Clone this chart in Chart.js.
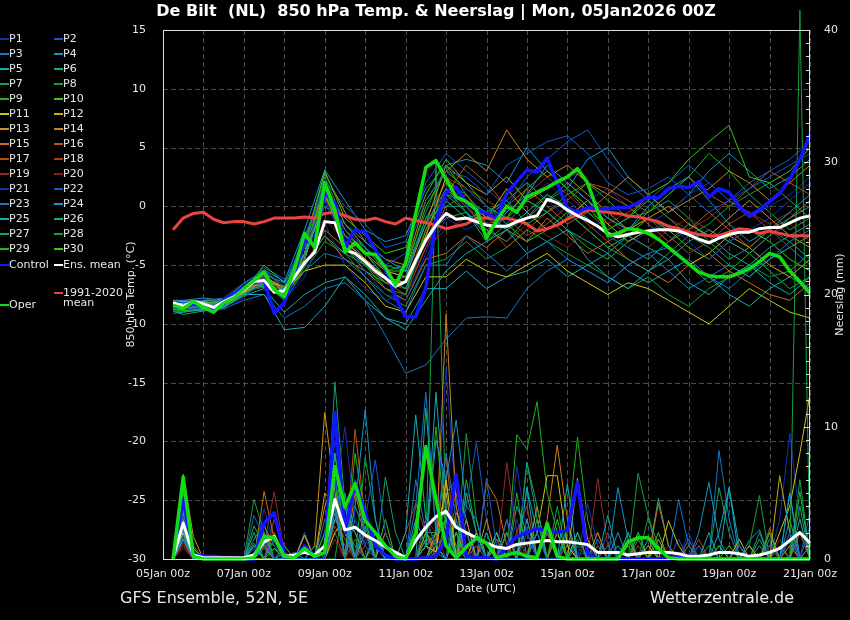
<!DOCTYPE html>
<html>
<head>
<meta charset="utf-8">
<script src="https://cdn.jsdelivr.net/npm/chart.js@4.4.1/dist/chart.umd.min.js"></script>
<style>
  html, body { margin: 0; padding: 0; background: #000; }
  #chart { display: block; width: 850px; height: 620px; }
</style>
</head>
<body>
<canvas id="chart" width="850" height="620"></canvas>
<script>
"use strict";

// forecast steps in hours after 05Jan2026 00Z
var stepHours = [];
for (var k = 1; k <= 64; k++) stepHours.push(k * 6);
// members were read every 12 h (plus the first 06Z step)
var memberHours = [6];
for (var h = 12; h <= 384; h += 12) memberHours.push(h);

var dayTicks = ["05Jan 00z", "07Jan 00z", "09Jan 00z", "11Jan 00z", "13Jan 00z",
  "15Jan 00z", "17Jan 00z", "19Jan 00z", "21Jan 00z"];

// 850 hPa temperature (degC), 6-hourly
var controlTemp = [-8.4,-8.6,-8.3,-8.4,-8.7,-8.0,-7.5,-6.9,-6.5,-6.3,
  -9.1,-8.2,-5.7,-2.9,-3.1,1.2,0.3,-3.5,-2.0,-2.2,
  -3.7,-5.4,-7.7,-9.4,-9.4,-6.9,-1.2,1.2,1.6,0.3,
  -0.3,-0.6,-1.0,1.1,2.1,3.1,2.9,4.1,2.0,-0.2,
  -0.5,-0.1,-0.2,-0.2,-0.1,-0.1,0.3,0.8,0.7,1.5,
  1.7,1.6,2.1,0.8,1.5,1.2,0.0,-0.8,-0.3,0.4,
  1.1,2.3,4.0,6.1];
var meanTemp = [-8.2,-8.5,-8.1,-8.3,-8.6,-8.1,-7.7,-7.1,-6.4,-6.3,
  -7.3,-7.2,-6.0,-4.8,-3.9,-1.3,-1.4,-3.7,-4.0,-4.7,
  -5.5,-6.1,-6.8,-6.4,-4.6,-2.9,-1.6,-0.6,-1.1,-1.0,
  -1.3,-1.6,-1.7,-1.7,-1.3,-1.0,-0.8,0.6,0.3,-0.3,
  -0.8,-1.2,-1.7,-2.3,-2.6,-2.4,-2.2,-2.1,-2.0,-2.0,
  -2.1,-2.4,-2.8,-3.1,-2.7,-2.4,-2.2,-2.2,-1.9,-1.8,
  -1.8,-1.4,-1.0,-0.8];
var operTemp = [-8.4,-8.7,-8.1,-8.6,-9.0,-8.2,-7.8,-7.0,-6.3,-5.6,
  -7.1,-7.7,-5.4,-2.3,-3.5,2.0,-0.3,-3.9,-3.1,-4.0,
  -4.1,-5.2,-6.7,-4.8,-0.6,3.3,3.9,2.3,0.8,0.4,
  -0.3,-2.7,-1.2,0.0,-0.5,0.8,1.2,1.6,2.1,2.5,
  3.2,2.0,-0.4,-2.5,-2.3,-1.9,-2.0,-2.3,-2.8,-3.5,
  -4.2,-4.9,-5.6,-5.9,-6.0,-6.0,-5.7,-5.3,-4.7,-4.0,
  -4.3,-5.5,-6.4,-7.4];
var climTemp = [-2.0,-1.0,-0.6,-0.5,-1.1,-1.4,-1.3,-1.3,-1.5,-1.3,
  -1.0,-1.0,-1.0,-0.9,-1.0,-0.6,-0.5,-0.8,-1.1,-1.2,
  -1.0,-1.3,-1.5,-1.0,-1.2,-1.4,-1.6,-1.9,-1.7,-1.5,
  -1.0,-1.0,-1.1,-1.0,-1.2,-1.5,-2.1,-1.9,-1.6,-1.1,
  -0.7,-0.3,-0.4,-0.5,-0.6,-0.8,-0.9,-1.1,-1.3,-1.7,
  -1.9,-2.2,-2.4,-2.5,-2.5,-2.2,-1.9,-2.0,-2.3,-2.1,
  -2.3,-2.5,-2.5,-2.5];

// precipitation (mm per 6 h)
var controlRain = [0,4.5,0.3,0.2,0.2,0.1,0,0,0,2.7,
  3.5,0.3,0.1,1.0,0.2,0.5,11.1,2.0,5.8,3.5,
  1.0,0.3,0,0,0,0.1,0.2,1.5,6.4,0.2,
  0.1,0.1,0,0.9,1.7,2.0,2.3,2.1,2.0,2.2,
  5.8,0.4,0,0,0,0,0,0,0,0,
  0.2,0.3,0,0,0,0,0,0,0,0,
  0,0,0,0];
var operRain = [0,6.2,0.2,0,0,0,0,0,0.1,1.7,
  1.6,0.2,0.1,0.8,0.2,0.5,7.0,3.9,5.7,2.9,
  2.0,1.0,0.2,0,2.0,8.5,4.5,1.0,0.1,0.9,
  1.6,1.2,0.1,0.3,0.5,0.2,0.1,2.7,0.2,0,
  0,0,0,0,0,1.3,1.6,1.6,0.8,0.1,
  0,0,0,0,0,0,0,0,0,0,
  0,0,0,0];
var meanRain = [0.1,2.7,0.3,0.1,0.1,0.1,0.1,0.1,0.3,1.3,
  1.7,0.2,0.3,0.5,0.3,1.0,4.5,2.2,2.4,1.8,
  1.4,0.9,0.5,0.1,1.4,2.4,3.2,3.6,2.4,2.0,
  1.6,1.2,0.9,0.8,1.1,1.2,1.3,1.4,1.3,1.3,
  1.2,1.1,0.5,0.5,0.5,0.3,0.4,0.5,0.5,0.5,
  0.4,0.2,0.2,0.3,0.5,0.5,0.4,0.2,0.3,0.5,
  0.8,1.4,2.0,1.2];

// ensemble members, temperature at memberHours
var tempP1 = [-8.6,-8.8,-8.6,-8.4,-7.0,-6.0,-7.5,-3.5,0.5,-3.0,-5.5,-7.5,-8.0,-4.0,0.5,1.5,0.0,-1.5,0.5,2.0,0.5,-1.0,-2.5,-3.5,-2.0,-1.5,-3.0,-4.5,-3.0,-2.0,-1.0,0.5,2.0];
var tempP2 = [-8.1,-8.2,-8.0,-7.8,-6.5,-5.5,-6.8,-2.5,1.5,-2.0,-3.5,-5.0,-4.0,0.5,3.0,2.5,1.0,3.5,4.5,5.5,6.0,4.5,2.0,1.0,1.5,2.5,1.0,-0.5,0.5,1.5,2.5,3.5,4.5];
var tempP3 = [-8.4,-8.5,-8.5,-8.2,-7.5,-6.5,-8.0,-5.5,-4.0,-4.5,-6.0,-8.0,-9.0,-5.0,-5.0,-2.5,-4.0,-5.5,-4.0,-3.0,-4.5,-5.5,-6.5,-5.0,-4.0,-3.5,-5.0,-6.0,-7.0,-5.5,-4.5,-3.0,-2.0];
var tempP4 = [-8.0,-8.0,-7.8,-8.0,-6.8,-5.8,-6.5,-4.0,0.0,-1.5,-3.0,-4.5,-5.5,-1.5,1.5,-0.5,-2.5,-0.5,1.0,3.5,2.0,0.5,-1.0,-2.0,0.0,1.5,2.5,0.5,-1.5,-3.0,-2.0,-0.5,1.0];
var tempP5 = [-9.1,-9.0,-8.8,-8.5,-7.5,-7.5,-10.5,-10.3,-8.5,-6.0,-7.5,-9.5,-10.5,-8.0,-5.5,-4.0,-3.0,-2.0,-4.0,-3.0,-2.0,-4.5,-6.0,-7.0,-5.5,-4.5,-6.5,-7.5,-6.0,-5.0,-6.5,-7.5,-6.0];
var tempP6 = [-8.5,-8.6,-8.3,-8.0,-7.0,-6.8,-7.0,-4.5,1.0,-2.5,-4.0,-6.0,-7.0,-3.0,0.5,-1.0,-0.5,0.5,-1.5,-0.5,-2.0,-3.0,-4.0,-2.5,-3.5,-4.5,-3.0,-2.0,-3.0,-4.0,-2.5,-1.0,0.0];
var tempP7 = [-8.3,-8.4,-8.8,-8.6,-7.5,-6.5,-7.5,-5.0,-2.5,-4.0,-5.0,-6.5,-6.0,-1.0,0.0,0.0,-2.0,-3.0,-1.0,1.0,-0.5,-2.0,-3.5,-4.5,-5.5,-4.0,-2.5,-3.5,-5.0,-6.0,-4.5,-3.5,-2.5];
var tempP8 = [-8.5,-8.7,-8.2,-8.3,-6.8,-5.5,-7.0,-3.0,2.5,-1.5,-3.5,-5.5,-5.0,-0.5,3.5,1.0,-1.0,0.5,2.0,0.5,1.5,-0.5,-2.0,-1.0,0.5,-1.0,-2.5,-1.5,0.0,1.0,-0.5,-2.0,-1.0];
var tempP9 = [-8.9,-9.2,-8.9,-8.6,-7.6,-6.2,-7.8,-4.0,1.8,-3.5,-5.0,-7.0,-7.5,-2.0,1.0,-0.5,-2.0,-1.0,0.5,-0.5,1.0,2.0,0.5,-1.0,-0.5,1.0,2.5,4.5,3.0,1.0,2.0,0.5,-1.0];
var tempP10 = [-8.6,-8.9,-8.4,-8.0,-7.2,-5.0,-6.5,-3.5,3.0,-1.0,-2.5,-4.0,-3.5,1.0,4.0,2.0,0.0,-1.0,1.5,3.0,1.5,0.0,-2.0,-1.0,1.0,2.0,4.0,5.5,6.9,2.5,2.0,3.0,5.0];
var tempP11 = [-8.2,-8.3,-8.1,-8.4,-7.3,-6.6,-7.2,-5.5,-5.0,-5.0,-6.5,-8.5,-9.0,-6.0,-6.0,-4.5,-5.5,-6.0,-5.0,-4.0,-5.5,-6.5,-7.5,-6.5,-7.0,-8.0,-9.0,-10.0,-8.5,-7.0,-8.0,-9.0,-9.5];
var tempP12 = [-8.5,-8.6,-8.7,-8.2,-7.0,-6.4,-6.8,-4.5,1.0,-3.0,-4.5,-6.0,-6.5,-2.5,2.5,0.5,-1.0,1.5,-0.5,-2.0,-1.0,0.5,-1.5,-3.0,-2.0,-3.5,-5.0,-4.0,-2.5,-3.5,-5.0,-6.0,-4.5];
var tempP13 = [-8.0,-8.1,-8.0,-7.9,-6.9,-6.0,-6.9,-4.0,2.0,-1.5,-3.5,-5.5,-6.0,-1.5,3.5,2.0,1.0,2.5,0.5,1.5,2.5,1.0,-0.5,-2.0,-1.0,0.0,-1.5,-2.5,-1.0,0.5,-1.0,-2.5,-3.5];
var tempP14 = [-8.3,-8.4,-8.2,-8.5,-7.4,-5.8,-7.3,-3.0,2.8,-0.5,-3.0,-4.5,-5.0,0.5,3.0,4.5,3.0,6.5,4.0,2.5,3.5,2.0,1.0,2.5,1.0,-0.5,0.5,1.5,3.0,2.0,0.5,2.0,3.5];
var tempP15 = [-8.7,-8.8,-8.6,-8.0,-7.1,-6.5,-7.6,-5.0,-2.5,-4.5,-5.5,-7.0,-8.0,-4.5,-4.0,-2.5,-3.5,-2.0,-3.0,-1.0,-2.5,-4.0,-3.0,-4.5,-5.5,-6.5,-5.0,-4.0,-5.5,-6.5,-7.5,-8.0,-6.5];
var tempP16 = [-8.4,-8.3,-8.5,-8.3,-7.2,-6.3,-7.0,-4.0,1.5,-2.0,-4.0,-5.5,-6.0,-3.0,1.0,3.5,2.0,0.0,1.5,0.0,-1.5,-0.5,1.0,0.0,-1.5,-3.0,-2.0,-0.5,-2.0,-3.5,-2.0,-1.0,0.5];
var tempP17 = [-8.4,-8.5,-8.4,-8.1,-6.9,-6.1,-7.1,-4.5,0.8,-2.5,-4.5,-6.5,-7.5,-3.5,0.0,1.0,-1.5,-3.5,-2.0,-0.5,0.5,2.0,1.5,0.5,-0.5,1.0,2.5,1.0,0.0,1.5,3.0,2.0,1.0];
var tempP18 = [-8.5,-8.6,-8.4,-8.0,-7.0,-6.6,-7.4,-5.0,-2.0,-3.5,-5.0,-6.5,-6.5,-2.5,1.5,0.0,-1.5,-1.0,-2.5,-1.5,0.0,-1.5,-3.0,-2.0,-1.0,-2.5,-4.0,-3.0,-1.5,-0.5,-2.0,-3.5,-2.5];
var tempP19 = [-8.3,-8.2,-8.3,-8.4,-7.3,-6.4,-7.0,-4.5,1.2,-2.0,-4.0,-6.0,-6.5,-2.0,2.5,1.5,0.5,-0.5,1.0,2.5,1.0,-0.5,-1.5,-0.5,0.5,-1.0,-2.0,-1.0,0.5,-0.5,-1.5,-0.5,-2.0];
var tempP20 = [-8.6,-8.7,-8.5,-8.1,-7.2,-6.8,-7.5,-4.0,-1.0,-3.0,-5.0,-6.5,-7.0,-3.5,-2.0,-1.0,-2.0,-3.0,-1.5,-2.5,-3.5,-2.0,-1.0,-2.5,-3.5,-2.0,-1.0,-2.0,-3.0,-4.0,-2.5,-1.5,-3.0];
var tempP21 = [-8.5,-8.4,-8.6,-8.8,-7.8,-6.0,-8.0,-6.0,-1.5,-5.0,-7.0,-8.0,-7.5,-4.5,-1.0,-2.0,-1.0,1.0,2.0,0.5,-1.0,0.5,1.5,0.0,-1.5,-0.5,1.0,2.0,0.5,-1.0,0.0,1.0,2.5];
var tempP22 = [-8.0,-8.0,-8.1,-8.2,-7.0,-5.2,-6.2,-3.5,2.2,0.0,-1.5,-3.5,-3.0,2.0,4.5,3.0,1.5,0.0,2.5,4.0,5.5,6.5,4.0,2.0,0.5,2.0,3.5,2.0,0.5,2.0,3.0,4.0,5.5];
var tempP23 = [-8.9,-9.0,-8.7,-8.7,-8.0,-7.5,-9.5,-8.5,-7.0,-6.5,-8.0,-11.0,-14.2,-13.5,-11.3,-9.5,-9.4,-9.5,-7.0,-5.5,-4.5,-5.5,-6.5,-5.0,-4.0,-5.5,-7.0,-6.0,-5.0,-6.0,-4.5,-3.5,-5.0];
var tempP24 = [-8.0,-8.1,-8.2,-8.0,-6.6,-5.4,-6.4,-2.0,3.1,0.5,-2.0,-3.0,-2.5,1.5,3.5,4.0,3.5,2.0,5.0,3.0,1.5,4.0,5.0,2.5,1.0,-0.5,1.0,3.0,4.5,3.0,1.5,2.5,4.0];
var tempP25 = [-8.8,-8.6,-8.9,-8.6,-7.6,-7.0,-9.0,-7.5,-6.5,-6.0,-8.0,-9.5,-10.0,-7.0,-7.0,-5.5,-7.0,-6.0,-5.5,-4.5,-6.0,-5.0,-4.0,-5.5,-6.5,-5.5,-4.5,-6.0,-7.5,-8.5,-7.0,-6.0,-7.0];
var tempP26 = [-8.4,-8.5,-8.3,-8.4,-7.0,-6.4,-7.2,-4.5,0.5,-3.0,-4.5,-6.0,-6.5,-2.0,1.0,0.5,-0.5,-2.0,-0.5,1.0,0.0,-1.0,-2.5,-3.5,-4.5,-3.0,-1.5,-2.5,-4.0,-5.0,-3.5,-2.5,-1.5];
var tempP27 = [-8.6,-8.7,-8.5,-8.2,-7.3,-6.1,-7.4,-4.2,1.2,-2.5,-3.5,-5.0,-5.5,-1.0,2.0,1.0,-1.0,-2.0,-1.0,0.5,2.0,0.5,-1.0,-2.0,-0.5,0.5,-1.0,-3.0,-4.5,-3.5,-2.0,-3.0,-4.5];
var tempP28 = [-8.2,-8.3,-8.0,-8.1,-7.1,-6.9,-7.6,-5.5,-3.0,-4.0,-6.0,-7.5,-8.5,-5.0,-4.5,-3.0,-4.5,-3.5,-2.0,-3.0,-4.0,-5.0,-6.0,-7.0,-6.0,-7.5,-8.5,-7.0,-6.0,-5.0,-6.0,-5.5,-4.0];
var tempP29 = [-8.8,-8.9,-8.7,-8.3,-7.4,-6.7,-7.7,-5.2,-2.0,-3.5,-5.5,-6.5,-7.0,-2.5,-1.0,-0.5,-3.0,-1.5,0.5,-0.5,-2.0,-3.5,-4.5,-3.0,-2.0,-3.5,-5.0,-6.5,-5.5,-4.0,-5.5,-7.0,-6.0];
var tempP30 = [-8.3,-8.2,-8.4,-8.2,-7.2,-6.0,-7.0,-4.0,1.5,-2.0,-4.0,-5.5,-5.5,0.0,3.0,1.5,0.0,-1.5,-3.0,-2.0,-0.5,-2.0,-3.5,-2.5,-1.0,-2.0,-3.5,-4.5,-3.0,-2.0,-3.0,-4.5,-5.5];

// ensemble members, wet 6-h steps as [step, mm]; all other steps are dry
var rainP1 = [[2,2.5],[3,0.3],[10,3.8],[11,1.0],[14,0.8],[17,5.0],[18,10.0],[19,3.0],[20,1.0],[26,3.0],[27,1.0],[28,2.0],[31,1.5],[35,7.0],[36,2.0],[42,1.0],[50,0.5],[60,1.0],[62,2.0]];
var rainP2 = [[2,3.2],[3,0.5],[9,3.3],[10,1.5],[17,6.0],[18,2.0],[20,3.0],[21,7.5],[22,2.0],[27,0.5],[29,4.5],[30,2.0],[32,6.1],[33,1.0],[38,2.5],[44,1.0],[52,1.5],[64,2.5]];
var rainP3 = [[2,1.8],[10,1.2],[12,0.5],[16,3.0],[17,4.0],[19,6.0],[20,2.0],[25,4.0],[26,12.6],[27,2.0],[28,8.0],[29,3.0],[34,3.0],[37,2.0],[43,1.5],[51,4.5],[52,1.0],[57,1.0],[62,1.5]];
var rainP4 = [[2,2.2],[9,1.0],[11,1.5],[15,1.0],[17,3.5],[19,4.0],[20,11.3],[21,3.0],[26,1.0],[27,9.0],[28,6.0],[29,10.5],[30,4.0],[31,3.0],[36,3.0],[40,2.5],[45,2.0],[53,2.0],[54,5.8],[55,1.5],[58,1.4],[59,2.2],[62,5.0]];
var rainP5 = [[2,1.5],[10,0.8],[13,0.5],[17,3.0],[18,4.0],[21,2.0],[24,2.0],[25,10.9],[26,3.0],[27,1.0],[29,3.0],[33,2.0],[36,5.4],[40,5.7],[44,3.3],[48,1.5],[54,2.0],[56,5.4],[57,1.0]];
var rainP6 = [[2,2.8],[3,0.8],[9,2.0],[12,1.0],[17,8.0],[18,3.0],[20,2.5],[26,11.4],[27,2.0],[28,3.0],[30,5.0],[31,2.0],[37,3.0],[41,2.0],[49,1.0],[59,1.5],[63,3.0]];
var rainP7 = [[2,3.5],[3,0.5],[9,1.5],[10,2.7],[17,13.4],[18,4.0],[19,2.0],[22,6.2],[23,2.0],[27,1.5],[28,4.0],[32,2.0],[36,7.3],[37,4.0],[46,2.0],[55,5.4],[56,2.0],[63,4.0]];
var rainP8 = [[2,4.0],[9,4.5],[10,2.0],[14,1.0],[18,5.0],[20,7.7],[21,3.0],[26,1.0],[28,3.0],[30,9.5],[31,3.0],[34,2.0],[39,4.0],[47,6.5],[48,3.2],[49,1.0],[58,1.0],[59,4.8],[63,41.5]];
var rainP9 = [[2,5.0],[3,1.0],[10,1.5],[11,1.0],[16,2.0],[17,6.0],[19,8.0],[20,3.0],[26,1.0],[27,10.0],[28,2.0],[35,9.4],[36,8.3],[37,11.9],[38,5.0],[39,2.0],[47,1.5],[60,2.0],[63,5.1]];
var rainP10 = [[2,5.5],[3,0.5],[11,0.8],[17,7.0],[18,2.0],[21,1.5],[26,2.0],[27,1.0],[29,2.0],[33,1.0],[39,3.0],[41,2.0],[49,2.0],[55,1.0],[61,1.0]];
var rainP11 = [[2,2.0],[12,0.5],[17,2.0],[18,3.0],[26,1.0],[27,0.5],[28,6.0],[31,2.0],[37,2.0],[38,6.3],[39,6.3],[40,1.0],[50,2.9],[51,1.0],[58,1.0],[61,2.0],[62,4.0],[63,8.0],[64,12.5]];
var rainP12 = [[2,3.0],[9,1.0],[14,1.8],[16,5.0],[17,4.0],[20,2.0],[26,3.0],[27,1.0],[29,3.5],[30,2.0],[33,2.0],[36,3.0],[41,6.1],[42,1.5],[48,1.0],[57,1.5],[61,6.3],[62,2.0]];
var rainP13 = [[2,6.4],[3,1.7],[10,2.0],[15,1.0],[16,11.1],[17,5.0],[18,2.0],[22,2.0],[27,2.0],[28,5.0],[30,3.0],[34,2.0],[37,4.0],[43,2.0],[49,1.5],[60,1.0]];
var rainP14 = [[2,4.5],[3,0.5],[10,2.5],[11,1.0],[16,4.0],[17,6.0],[19,5.0],[20,2.0],[27,1.0],[28,18.5],[29,4.0],[32,3.0],[38,3.0],[39,8.6],[40,3.0],[46,1.5],[52,1.0],[60,2.0],[64,1.0]];
var rainP15 = [[2,3.8],[10,5.1],[11,1.5],[14,1.8],[17,4.5],[18,3.0],[19,2.0],[26,2.0],[27,0.5],[28,6.0],[32,5.8],[33,4.5],[34,1.0],[39,2.0],[49,4.2],[50,1.0],[62,1.0]];
var rainP16 = [[2,2.4],[3,0.8],[10,1.0],[17,5.0],[19,9.8],[20,3.0],[21,1.0],[26,1.5],[27,1.0],[28,8.0],[30,2.0],[33,1.0],[38,2.0],[44,1.0],[57,1.0],[60,2.3]];
var rainP17 = [[2,1.6],[11,2.0],[17,3.0],[18,1.5],[20,1.0],[27,0.5],[28,2.0],[29,5.0],[31,1.0],[35,2.0],[36,4.0],[43,1.0],[52,1.5],[58,1.0],[63,2.0]];
var rainP18 = [[2,1.2],[11,3.0],[12,1.0],[17,2.0],[19,1.5],[24,2.0],[25,4.2],[26,2.0],[28,3.0],[30,1.0],[34,3.0],[40,1.0],[47,1.0],[53,1.5]];
var rainP19 = [[2,1.0],[10,1.0],[11,5.1],[12,0.5],[17,2.5],[18,1.0],[27,2.0],[28,4.0],[34,7.3],[35,2.0],[43,6.1],[44,1.0],[57,1.5],[62,1.0]];
var rainP20 = [[2,0.8],[11,2.0],[17,1.5],[21,1.0],[26,3.0],[27,2.0],[31,2.0],[35,1.0],[42,1.5],[43,2.0],[50,1.0],[61,1.5]];
var rainP21 = [[2,2.6],[3,0.3],[10,2.0],[17,9.0],[18,3.0],[20,1.5],[26,1.0],[27,1.5],[28,14.4],[29,4.0],[31,1.0],[35,3.0],[42,4.2],[43,1.0],[52,2.0],[61,3.0],[62,9.5],[63,3.0]];
var rainP22 = [[2,3.4],[10,1.4],[14,2.0],[17,5.5],[18,2.5],[21,2.0],[27,1.0],[30,4.0],[31,8.8],[32,3.0],[36,2.0],[44,2.0],[51,1.5],[64,3.5]];
var rainP23 = [[2,1.4],[9,0.8],[17,4.0],[19,3.0],[20,1.0],[25,6.0],[26,2.0],[27,1.0],[28,2.0],[33,2.0],[40,1.5],[46,2.0],[55,8.2],[56,3.0],[62,2.0]];
var rainP24 = [[2,2.0],[10,1.0],[17,6.0],[18,2.0],[20,4.0],[26,1.0],[27,2.0],[28,5.0],[29,6.0],[30,3.0],[36,5.4],[37,2.0],[45,5.4],[46,1.5],[53,1.0],[62,3.0]];
var rainP25 = [[2,1.9],[11,0.8],[17,3.0],[18,2.0],[25,3.0],[26,1.0],[27,12.6],[28,3.0],[32,2.0],[38,2.0],[45,1.0],[55,2.0],[56,5.4],[60,1.0],[62,5.0]];
var rainP26 = [[2,2.9],[10,1.6],[17,5.0],[19,4.0],[20,2.0],[26,1.0],[27,0.5],[29,2.0],[35,4.0],[36,2.0],[40,1.0],[49,4.6],[50,1.0],[59,1.0]];
var rainP27 = [[2,4.2],[9,1.2],[17,6.0],[18,2.0],[19,1.0],[26,1.5],[27,1.0],[30,2.0],[36,7.3],[37,3.0],[41,1.5],[47,2.0],[54,1.0],[60,1.5],[63,2.0]];
var rainP28 = [[2,3.6],[10,1.0],[17,4.0],[18,3.0],[26,1.0],[27,30.0],[28,3.0],[30,2.0],[34,2.0],[41,1.0],[48,3.2],[55,1.0],[59,2.0],[63,6.0]];
var rainP29 = [[2,5.8],[3,0.5],[9,2.5],[10,1.0],[17,5.0],[18,2.0],[20,3.0],[26,2.0],[27,2.0],[28,3.0],[30,6.0],[31,2.0],[35,5.0],[40,2.0],[41,9.2],[42,3.0],[47,2.0],[58,1.0],[62,2.0]];
var rainP30 = [[2,6.0],[3,0.8],[10,1.0],[16,2.0],[17,8.0],[18,2.0],[22,3.0],[26,1.0],[27,1.5],[28,3.0],[29,1.0],[33,1.5],[39,2.0],[46,1.0],[56,1.0],[60,1.0]];

var memberTemps = [tempP1, tempP2, tempP3, tempP4, tempP5, tempP6, tempP7, tempP8, tempP9, tempP10,
  tempP11, tempP12, tempP13, tempP14, tempP15, tempP16, tempP17, tempP18, tempP19, tempP20,
  tempP21, tempP22, tempP23, tempP24, tempP25, tempP26, tempP27, tempP28, tempP29, tempP30];
var memberRains = [rainP1, rainP2, rainP3, rainP4, rainP5, rainP6, rainP7, rainP8, rainP9, rainP10,
  rainP11, rainP12, rainP13, rainP14, rainP15, rainP16, rainP17, rainP18, rainP19, rainP20,
  rainP21, rainP22, rainP23, rainP24, rainP25, rainP26, rainP27, rainP28, rainP29, rainP30];

var memberColors = ["#1432b4", "#145ac8", "#1478c8", "#1496c8", "#14aab4",
  "#14aa8c", "#14a064", "#14a03c", "#1eb41e", "#32c814",
  "#c8c814", "#c8aa14", "#c8961e", "#c8821e", "#c8701e",
  "#b45a14", "#b44b14", "#aa3c1e", "#962828", "#821e1e"];
var controlColor = "#1414ff";
var operColor = "#14dc14";
var meanColor = "#ffffff";
var climColor = "#e84440";
var textColor = "#e6e6e6";

Chart.defaults.font.family = "'DejaVu Sans', sans-serif";
Chart.defaults.font.size = 11;
Chart.defaults.color = textColor;

var toPoints = function(hours, values) {
  var pts = [];
  for (var i = 0; i < values.length && i < hours.length; i++) {
    pts.push({ x: hours[i], y: values[i] });
  }
  return pts;
};

var wetSteps = function(pairs) {
  var values = stepHours.map(function() { return 0; });
  pairs.forEach(function(p) { values[p[0] - 1] = p[1]; });
  return values;
};

var line = function(label, hours, values, color, width, axis, order) {
  return {
    label: label,
    data: toPoints(hours, values),
    yAxisID: axis,
    borderColor: color,
    borderWidth: width,
    borderJoinStyle: width > 2 ? "round" : "miter",
    pointRadius: 0,
    tension: 0,
    fill: false,
    clip: false,
    order: order
  };
};

var datasets = [];
memberTemps.forEach(function(vals, i) {
  var color = memberColors[i % 20];
  datasets.push(line("P" + (i + 1), memberHours, vals, color, 1, "y", 10));
  datasets.push(line("P" + (i + 1) + " rain", stepHours, wetSteps(memberRains[i]), color, 1, "y2", 10));
});
datasets.push(line("1991-2020 mean", stepHours, climTemp, climColor, 3, "y", 4));
datasets.push(line("Control", stepHours, controlTemp, controlColor, 3.5, "y", 3));
datasets.push(line("Control rain", stepHours, controlRain, controlColor, 3.5, "y2", 3));
datasets.push(line("Ens. mean", stepHours, meanTemp, meanColor, 3, "y", 2));
datasets.push(line("Ens. mean rain", stepHours, meanRain, meanColor, 3, "y2", 2));
datasets.push(line("Oper", stepHours, operTemp, operColor, 3.5, "y", 1));
datasets.push(line("Oper rain", stepHours, operRain, operColor, 3.5, "y2", 1));

var decor = {
  id: "decor",
  beforeDraw: function(chart) {
    var ctx = chart.ctx;
    ctx.save();
    ctx.fillStyle = "#000";
    ctx.fillRect(0, 0, chart.width, chart.height);
    ctx.restore();
  },
  beforeDatasetsDraw: function(chart) {
    var ctx = chart.ctx, a = chart.chartArea;
    var xs = chart.scales.x, ys = chart.scales.y;
    ctx.save();
    ctx.strokeStyle = "#4a4a4a";
    ctx.lineWidth = 1;
    ctx.setLineDash([5, 3]);
    xs.ticks.forEach(function(t) {
      var px = Math.round(xs.getPixelForValue(t.value)) + 0.5;
      ctx.beginPath(); ctx.moveTo(px, a.top); ctx.lineTo(px, a.bottom); ctx.stroke();
    });
    ys.ticks.forEach(function(t) {
      var py = Math.round(ys.getPixelForValue(t.value)) + 0.5;
      ctx.beginPath(); ctx.moveTo(a.left, py); ctx.lineTo(a.right, py); ctx.stroke();
    });
    ctx.restore();
  },
  afterDraw: function(chart) {
    var ctx = chart.ctx, a = chart.chartArea;
    var y2 = chart.scales.y2;
    ctx.save();

    // frame and the precipitation ticks inside the right edge
    ctx.strokeStyle = "#e0e0e0";
    ctx.lineWidth = 1;
    ctx.strokeRect(Math.round(a.left) + 0.5, Math.round(a.top) + 0.5,
      Math.round(a.right - a.left) - 1, Math.round(a.bottom - a.top));
    for (var v = 0; v <= 40; v++) {
      var py = Math.round(y2.getPixelForValue(v)) + 0.5;
      ctx.beginPath();
      ctx.moveTo(a.right, py);
      ctx.lineTo(a.right - (v % 10 === 0 ? 6 : 4), py);
      ctx.stroke();
    }

    // titles
    ctx.fillStyle = "#ffffff";
    ctx.textBaseline = "middle";
    ctx.textAlign = "center";
    ctx.font = "bold 16px 'DejaVu Sans'";
    ctx.fillText("De Bilt  (NL)  850 hPa Temp. & Neerslag | Mon, 05Jan2026 00Z", 436, 12);

    ctx.fillStyle = textColor;
    ctx.font = "11px 'DejaVu Sans'";
    ctx.fillText("Date (UTC)", 486, 589);
    ctx.save();
    ctx.translate(131, (a.top + a.bottom) / 2);
    ctx.rotate(-Math.PI / 2);
    ctx.fillText("850 hPa Temp. (\u00b0C)", 0, 0);
    ctx.restore();
    ctx.save();
    ctx.translate(840, (a.top + a.bottom) / 2);
    ctx.rotate(-Math.PI / 2);
    ctx.fillText("Neerslag (mm)", 0, 0);
    ctx.restore();

    ctx.font = "16px 'DejaVu Sans'";
    ctx.textAlign = "left";
    ctx.fillText("GFS Ensemble, 52N, 5E", 120, 599);
    ctx.fillText("Wetterzentrale.de", 650, 599);

    // legend, two columns at the left
    ctx.font = "11px 'DejaVu Sans'";
    var entry = function(x, y, color, label) {
      ctx.strokeStyle = color;
      ctx.lineWidth = 2;
      ctx.beginPath(); ctx.moveTo(x, y); ctx.lineTo(x + 9, y); ctx.stroke();
      ctx.fillStyle = textColor;
      ctx.fillText(label, x + 9, y);
    };
    for (var i = 0; i < 15; i++) {
      var ly = 39 + i * 15;
      entry(0, ly, memberColors[(2 * i) % 20], "P" + (2 * i + 1));
      entry(54, ly, memberColors[(2 * i + 1) % 20], "P" + (2 * i + 2));
    }
    entry(0, 265, controlColor, "Control");
    entry(54, 265, meanColor, "Ens. mean");
    entry(0, 305, operColor, "Oper");
    entry(54, 293, climColor, "1991-2020");
    ctx.fillText("mean", 63, 303);
    ctx.restore();
  }
};

new Chart(document.getElementById("chart"), {
  type: "line",
  data: { datasets: datasets },
  options: {
    responsive: false,
    animation: false,
    devicePixelRatio: 1,
    layout: { padding: { top: 30, left: 0, right: 0, bottom: 0 } },
    plugins: {
      legend: { display: false },
      tooltip: { enabled: false }
    },
    scales: {
      x: {
        type: "linear",
        min: 0,
        max: 384,
        grid: { display: false },
        border: { display: false },
        ticks: {
          stepSize: 24,
          autoSkip: false,
          maxRotation: 0,
          padding: 1,
          color: textColor,
          callback: function(value) {
            return value % 48 === 0 ? dayTicks[value / 48] : "";
          }
        },
        afterFit: function(scale) { scale.height = 61; }
      },
      y: {
        position: "left",
        min: -30,
        max: 15,
        grid: { display: false },
        border: { display: false },
        ticks: { stepSize: 5, padding: 9, color: textColor },
        afterFit: function(scale) { scale.width = 163; }
      },
      y2: {
        position: "right",
        min: 0,
        max: 40,
        grid: { display: false },
        border: { display: false },
        ticks: { stepSize: 10, padding: 6, color: textColor },
        afterFit: function(scale) { scale.width = 40; }
      }
    }
  },
  plugins: [decor]
});
</script>
</body>
</html>
